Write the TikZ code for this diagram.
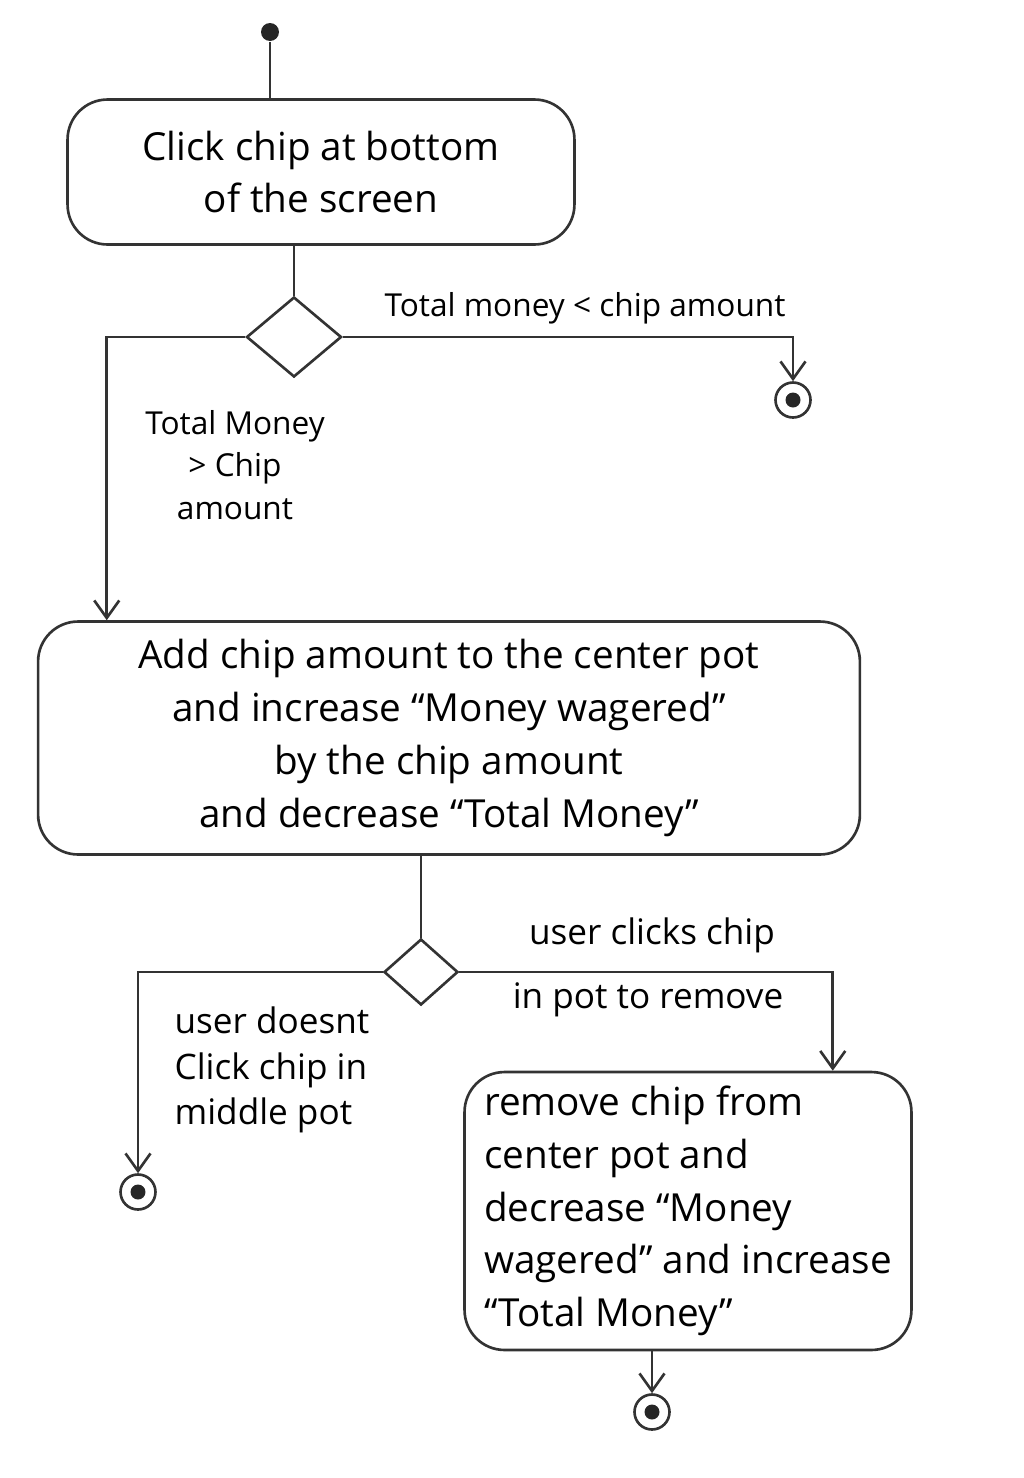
\documentclass[tikz,border=0pt]{standalone}
\usepackage{fontspec}
\setmainfont{Open Sans}
\usepackage{tikz}
\usetikzlibrary{arrows.meta, shapes.geometric, positioning}

\begin{document}
\begin{tikzpicture}[
          x=0.02cm, y=-0.02cm,
          line width=1.5pt, draw=black!80,
          act/.style={draw, rounded corners=8mm, align=center, inner sep=0pt, font=\fontsize{22}{30}\selectfont},
          decision/.style={draw, diamond, inner sep=0pt},
          initial/.style={circle, fill=black!85, minimum size=3.6mm, inner sep=0pt},
          final/.style={circle, draw, minimum size=7mm, inner sep=0pt,
            path picture={\fill[black!85] (path picture bounding box.center) circle (1.5mm);}},
          guard/.style={font=\fontsize{18}{24}\selectfont, align=center},
          flow/.style={-{Straight Barb[length=3.5mm, width=5mm]}}
        ]
          \useasboundingbox (0,0) rectangle (1024,1478);
          % nodes
          \node[initial] (start) at (270,32) {};
          \node[act, minimum width=10.14cm, minimum height=2.9cm] (pick) at (321,172) {Click chip at bottom\\of the screen};
          \node[decision, minimum width=1.9cm, minimum height=1.6cm] (money) at (294,337) {};
          \node[final] (stopA) at (793,400) {};
          \node[act, minimum width=16.44cm, minimum height=4.66cm] (wager) at (449,738)
            {Add chip amount to the center pot\\and increase ``Money wagered''\\by the chip amount\\and decrease ``Total Money''};
          \node[decision, minimum width=1.48cm, minimum height=1.32cm] (undo) at (421,972) {};
          \node[final] (stopB) at (138,1192) {};
          \node[act, align=left, minimum width=8.94cm, minimum height=5.56cm] (remove) at (688,1211)
            {remove chip from\\center pot and\\decrease ``Money\\wagered'' and increase\\``Total Money''};
          \node[final] (stopC) at (652,1412) {};
          % connectors
          \draw (start) -- (start |- pick.north);
          \draw (money.north |- pick.south) -- (money.north);
          \draw[flow] (money.east) -| (stopA.north);
          \draw[flow] (money.west) -| ([xshift=1.4cm]wager.north west);
          \draw (undo.north |- wager.south) -- (undo.north);
          \draw[flow] (undo.west) -| (stopB.north);
          \draw[flow] (undo.east) -| ([xshift=-1.6cm]remove.north east);
          \draw[flow] (stopC |- remove.south) -- (stopC.north);
          % guards
          \node[guard] (lowMoney) at (585,308) {Total money < chip amount};
          \node[guard] (enoughMoney) at (235,465) {Total Money\\> Chip\\amount};
          \node[guard, font=\fontsize{20}{26}\selectfont] (clickTop) at (652,935) {user clicks chip};
          \node[guard, font=\fontsize{20}{26}\selectfont] (clickBot) at (648,1000) {in pot to remove};
          \node[guard, align=left, font=\fontsize{20}{26}\selectfont] (noClick) at (272,1070) {user doesnt\\Click chip in\\middle pot};
        \end{tikzpicture}
\end{document}
